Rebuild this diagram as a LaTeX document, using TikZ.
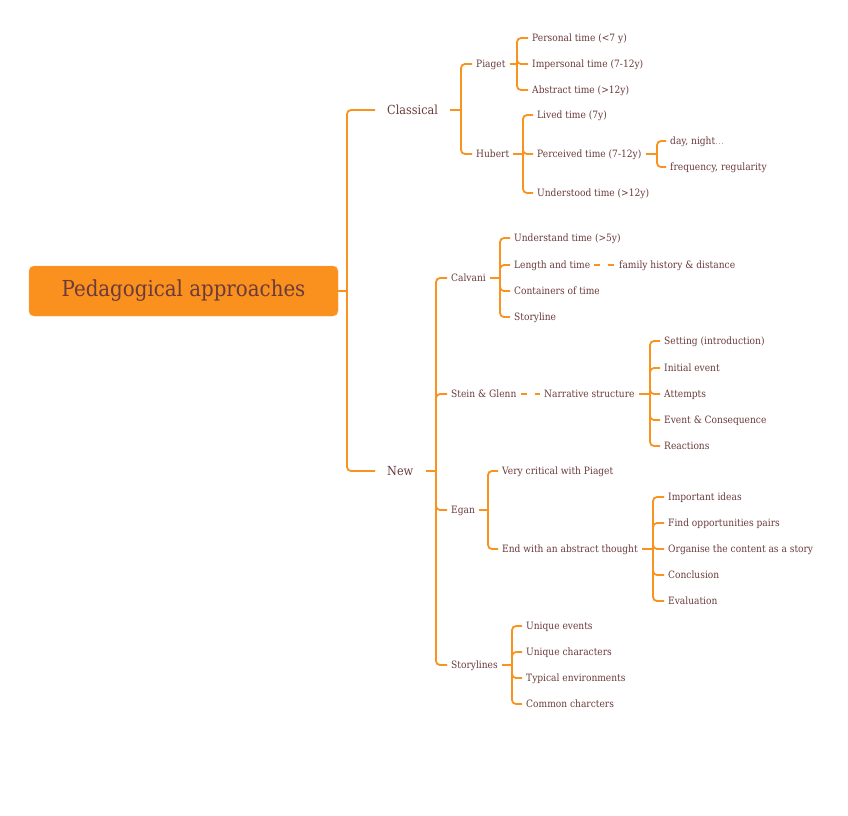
\documentclass[tikz,border=0pt]{standalone}
\usepackage{fontspec}
\setmainfont[FakeStretch=0.9]{DejaVu Serif}
\usetikzlibrary{calc}
\definecolor{org}{HTML}{F7931E}
\definecolor{boxfill}{HTML}{FA901E}
\definecolor{txt}{HTML}{6B3A3A}
\newcommand\brk[3]{%
  \draw[conn] (#1.east) -- (#2,0 |- #1.east);
  \foreach \c in {#3}{\draw[conn,rounded corners=4pt] (#2,0 |- #1.east) |- (\c.west);}%
}
\begin{document}
\begin{tikzpicture}[x=1pt,y=-1pt,
  t/.style={anchor=west,xshift=-4pt,inner xsep=4pt,inner ysep=0pt,text=txt,
    text height=8pt,text depth=1pt,font=\fontsize{10.1}{12}\selectfont},
  lv/.style={anchor=west,xshift=-12pt,inner xsep=12pt,inner ysep=0pt,text=txt,
    text height=10pt,text depth=2pt,font=\fontsize{12.5}{15}\selectfont},
  rootbox/.style={fill=boxfill,draw=boxfill!80!white,rounded corners=5pt,text=txt,
    minimum width=309pt,minimum height=50pt,inner sep=0pt,font=\fontsize{22}{26}\selectfont},
  conn/.style={draw=org,line width=1.8pt},
  dashconn/.style={conn,dash pattern=on 6pt off 8pt}]
\useasboundingbox (0,0) rectangle (848,815);

\node[rootbox] (root) at (183.5,291) {Pedagogical approaches};

\node[lv] (cls) at (387,110) {Classical};
\node[lv] (new) at (387,471) {New};

\node[t] (pia) at (476,64) {Piaget};
\node[t] (hub) at (476,154) {Hubert};
\node[t] (p1) at (532,38) {Personal time (<7 y)};
\node[t] (p2) at (532,64) {Impersonal time (7-12y)};
\node[t] (p3) at (532,90) {Abstract time (>12y)};
\node[t] (h1) at (537,115) {Lived time (7y)};
\node[t] (h2) at (537,154) {Perceived time (7-12y)};
\node[t] (h3) at (537,193) {Understood time (>12y)};
\node[t] (d1) at (670,141) {day, night\textcolor{txt!45}{…}};
\node[t] (d2) at (670,167) {frequency, regularity};

\node[t] (cal) at (451,278) {Calvani};
\node[t] (sg) at (451,394) {Stein \& Glenn};
\node[t] (egan) at (451,510) {Egan};
\node[t] (sto) at (451,665) {Storylines};

\node[t] (c1) at (514,238) {Understand time (>5y)};
\node[t] (c2) at (514,265) {Length and time};
\node[t] (c2b) at (619,265) {family history \& distance};
\node[t] (c3) at (514,291) {Containers of time};
\node[t] (c4) at (514,317) {Storyline};

\node[t] (ns) at (544,394) {Narrative structure};
\node[t] (n1) at (664,341) {Setting (introduction)};
\node[t] (n2) at (664,368) {Initial event};
\node[t] (n3) at (664,394) {Attempts};
\node[t] (n4) at (664,420) {Event \& Consequence};
\node[t] (n5) at (664,446) {Reactions};

\node[t] (e1) at (502,471) {Very critical with Piaget};
\node[t] (e2) at (502,549) {End with an abstract thought};
\node[t] (a1) at (668,497) {Important ideas};
\node[t] (a2) at (668,523) {Find opportunities pairs};
\node[t] (a3) at (668,549) {Organise the content as a story};
\node[t] (a4) at (668,575) {Conclusion};
\node[t] (a5) at (668,601) {Evaluation};

\node[t] (s1) at (526,626) {Unique events};
\node[t] (s2) at (526,652) {Unique characters};
\node[t] (s3) at (526,678) {Typical environments};
\node[t] (s4) at (526,704) {Common charcters};

\brk{root}{347}{cls,new}
\brk{cls}{461}{pia,hub}
\brk{pia}{517}{p1,p2,p3}
\brk{hub}{523}{h1,h2,h3}
\brk{h2}{657}{d1,d2}
\brk{new}{436}{cal,sg,egan,sto}
\brk{cal}{500}{c1,c2,c3,c4}
\brk{ns}{650}{n1,n2,n3,n4,n5}
\brk{egan}{488}{e1,e2}
\brk{e2}{653}{a1,a2,a3,a4,a5}
\brk{sto}{512}{s1,s2,s3,s4}
\draw[dashconn] (c2.east) -- (c2b.west);
\draw[dashconn] (sg.east) -- (ns.west);
\end{tikzpicture}
\end{document}
